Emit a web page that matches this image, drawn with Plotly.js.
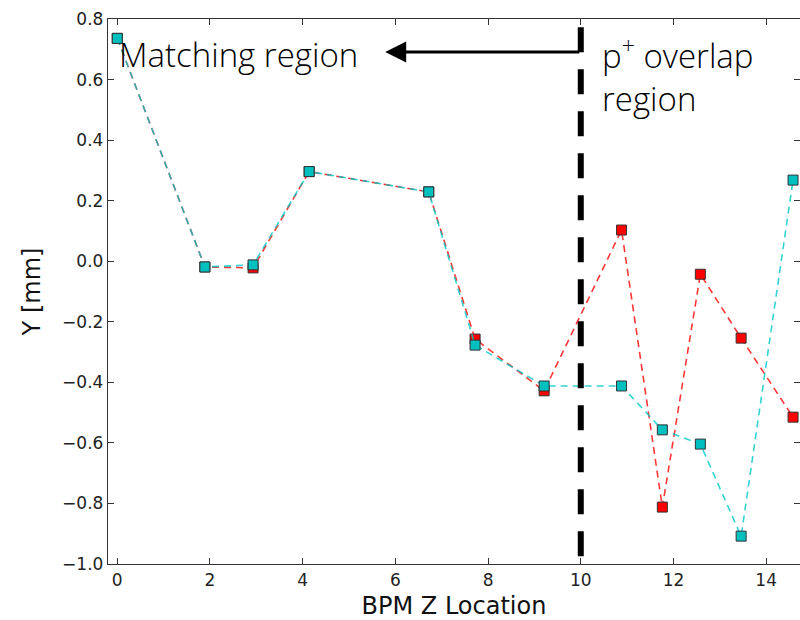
<!DOCTYPE html>
<html>
<head>
<meta charset="utf-8">
<script src="https://cdn.plot.ly/plotly-3.0.1.min.js"></script>
<style>html,body{margin:0;padding:0;background:#fff;}#chart{width:800px;height:620px;}</style>
</head>
<body>
<div id="chart"></div>
<script>
// BPM positions
const bpmZ = [0, 1.89, 2.93, 4.14, 6.72, 7.72, 9.21, 10.88, 11.76, 12.58, 13.46, 14.58];
// Red series (Y in mm)
const yRed  = [0.736, -0.019, -0.022, 0.296, 0.229, -0.257, -0.428, 0.103, -0.812, -0.043, -0.254, -0.515];
// Cyan series (Y in mm)
const yCyan = [0.736, -0.019, -0.012, 0.296, 0.229, -0.277, -0.412, -0.412, -0.557, -0.604, -0.908, 0.268];
const yTicks = [-1.0, -0.8, -0.6, -0.4, -0.2, 0.0, 0.2, 0.4, 0.6, 0.8];
const xTicks = [0, 2, 4, 6, 8, 10, 12, 14];
const dividerZ = 10;

const tickFont = {family: 'DejaVu Sans', size: 17, color: '#222'};
const titleFont = {family: 'DejaVu Sans', size: 24, color: '#111'};
const noteFont = {family: 'Open Sans', size: 33, color: '#000', weight: 300};

const traces = [
  {x: bpmZ, y: yRed, mode: 'lines+markers', type: 'scatter',
   line: {color: 'rgba(255,20,20,0.85)', width: 1.6, dash: '7px,5px'},
   marker: {symbol: 'square', size: 10, color: '#ff0000', line: {color: '#333', width: 1}}},
  {x: bpmZ, y: yCyan, mode: 'lines+markers', type: 'scatter',
   line: {color: 'rgba(0,200,200,0.8)', width: 1.6, dash: '7px,5px'},
   marker: {symbol: 'square', size: 10, color: '#00bfbf', line: {color: '#333', width: 1}}}
];

const layout = {
  width: 800, height: 620,
  margin: {l: 108, r: 0, t: 19, b: 56},
  paper_bgcolor: '#fff', plot_bgcolor: '#fff',
  showlegend: false,
  xaxis: {
    range: [-0.2, 14.73], tickvals: xTicks, ticktext: xTicks.map(String),
    ticks: 'inside', ticklen: 6, tickcolor: '#333', showline: true, linecolor: '#333', linewidth: 1.2,
    mirror: 'ticks', showgrid: false, zeroline: false, tickfont: tickFont,
    title: {text: 'BPM Z Location', font: titleFont, standoff: 8}
  },
  yaxis: {
    range: [-1.0, 0.8], tickvals: yTicks, ticktext: yTicks.map(v => (v < 0 ? '\u2212' : '') + Math.abs(v).toFixed(1)),
    ticks: 'inside', ticklen: 6, tickcolor: '#333', showline: true, linecolor: '#333', linewidth: 1.2,
    mirror: 'ticks', showgrid: false, zeroline: false, tickfont: tickFont,
    title: {text: 'Y [mm]', font: titleFont, standoff: 14}
  },
  shapes: [
    {type: 'line', xref: 'x', yref: 'y', x0: dividerZ, x1: dividerZ, y0: 0.773, y1: -0.995,
     line: {color: '#000', width: 6, dash: '25px,17px'}}
  ],
  annotations: [
    {xref: 'x', yref: 'y', x: 5.78, y: 0.691, ax: dividerZ, ay: 0.691, axref: 'x', ayref: 'y',
     text: '', showarrow: true, arrowhead: 2, arrowsize: 1.4, arrowwidth: 3, arrowcolor: '#000', standoff: 0, startstandoff: 0},
    {xref: 'x', yref: 'y', x: 0.0, y: 0.684, xanchor: 'left', yanchor: 'middle',
     text: 'Matching region', showarrow: false, font: noteFont},
    {xref: 'x', yref: 'y', x: 10.42, y: 0.615, xanchor: 'left', yanchor: 'middle', align: 'left',
     text: 'p<sup>+</sup> overlap<br>region', showarrow: false, font: noteFont}
  ]
};

Plotly.newPlot('chart', traces, layout, {displayModeBar: false, staticPlot: true});
</script>
</body>
</html>
